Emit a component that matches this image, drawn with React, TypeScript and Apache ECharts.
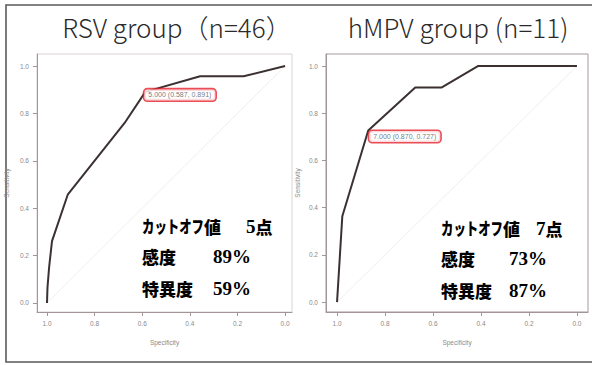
import React, { useEffect, useRef } from "react";
import * as echarts from "echarts";

// ROC curve of the RSV group (specificity on a reversed axis, sensitivity)
const rsvSpecificity = [1.0, 0.998, 0.991, 0.979, 0.913, 0.674, 0.587, 0.357, 0.174, 0.0];
const rsvSensitivity = [0.0, 0.065, 0.152, 0.261, 0.457, 0.76, 0.891, 0.957, 0.957, 1.0];

// ROC curve of the hMPV group
const hmpvSpecificity = [1.0, 0.978, 0.87, 0.674, 0.565, 0.413, 0.0];
const hmpvSensitivity = [0.0, 0.364, 0.727, 0.909, 0.909, 1.0, 1.0];

// Best cut-off point of each curve: threshold, specificity, sensitivity
const cutoffThreshold = [5, 7];
const cutoffSpecificity = [0.587, 0.87];
const cutoffSensitivity = [0.891, 0.727];

const panelTitles = ["RSV group（n=46）", "hMPV group (n=11)"];
const cutoffKana = "カットオフ";
const cutoffKanji = "値";
const cutoffScore = ["5", "7"];
const sensitivityText = ["89", "73"];
const specificityText = ["59", "87"];

const tickValues = [0, 0.2, 0.4, 0.6, 0.8, 1.0];

const curveColor = "#3b3131";
const axisColor = "#a39595";
const labelColor = "#8a8a8a";

function zip(xs: number[], ys: number[]) {
  return xs.map((x, i) => [x, ys[i]]);
}

export default function App() {
  const ref = useRef<HTMLDivElement>(null);

  useEffect(() => {
    if (!ref.current) return;
    const chart = echarts.init(ref.current, null, { renderer: "svg" });

    const grids = [
      { left: 37, top: 54, width: 255, height: 258 },
      { left: 326, top: 54, width: 262, height: 258 },
    ];
    const xRange = [
      { min: -0.029, max: 1.042 },
      { min: -0.046, max: 1.046 },
    ];
    const yRange = [
      { min: -0.038, max: 1.051 },
      { min: -0.042, max: 1.051 },
    ];
    const borderColors = ["#ddd3d3", "#a89999"];
    const yNameGap = [27, 25];

    const xAxes = grids.map((_, i) => ({
      type: "value",
      gridIndex: i,
      inverse: true,
      min: xRange[i].min,
      max: xRange[i].max,
      name: "Specificity",
      nameLocation: "middle",
      nameGap: 27,
      nameTextStyle: { fontSize: 6.5, color: labelColor, fontFamily: "Liberation Sans" },
      axisLine: { show: true, onZero: false, lineStyle: { color: axisColor, width: 1 } },
      axisTick: { show: true, length: 4, customValues: tickValues, lineStyle: { color: axisColor } },
      axisLabel: {
        customValues: tickValues,
        fontSize: 6.5,
        color: labelColor,
        margin: 8,
        fontFamily: "Liberation Sans",
        formatter: (v: number) => v.toFixed(1),
      },
      splitLine: { show: false },
    }));

    const yAxes = grids.map((_, i) => ({
      type: "value",
      gridIndex: i,
      min: yRange[i].min,
      max: yRange[i].max,
      name: "Sensitivity",
      nameLocation: "middle",
      nameGap: yNameGap[i],
      nameTextStyle: { fontSize: 6.5, color: labelColor, fontFamily: "Liberation Sans" },
      axisLine: { show: true, onZero: false, lineStyle: { color: axisColor, width: 1 } },
      axisTick: { show: true, length: 4, customValues: tickValues, lineStyle: { color: axisColor } },
      axisLabel: {
        customValues: tickValues,
        fontSize: 6.5,
        color: labelColor,
        margin: 8,
        fontFamily: "Liberation Sans",
        formatter: (v: number) => v.toFixed(1),
      },
      splitLine: { show: false },
    }));

    const curves = [
      zip(rsvSpecificity, rsvSensitivity),
      zip(hmpvSpecificity, hmpvSensitivity),
    ];

    const labelOffsets = [
      [-6, 3],
      [-4, 6],
    ];

    const series: any[] = [];
    grids.forEach((_, i) => {
      series.push({
        type: "line",
        xAxisIndex: i,
        yAxisIndex: i,
        data: [
          [1, 0],
          [0, 1],
        ],
        symbol: "none",
        silent: true,
        lineStyle: { color: "#f0eeee", width: 1 },
        z: 1,
      });
      series.push({
        type: "line",
        xAxisIndex: i,
        yAxisIndex: i,
        data: curves[i],
        symbol: "none",
        lineStyle: { color: curveColor, width: 2 },
        z: 3,
      });
      series.push({
        type: "scatter",
        xAxisIndex: i,
        yAxisIndex: i,
        data: [[cutoffSpecificity[i], cutoffSensitivity[i]]],
        symbolSize: 0,
        z: 5,
        label: {
          show: true,
          position: "right",
          offset: labelOffsets[i],
          formatter: () =>
            `${cutoffThreshold[i].toFixed(3)} (${cutoffSpecificity[i].toFixed(3)}, ${cutoffSensitivity[i].toFixed(3)})`,
          fontSize: 7,
          color: "#4d5566",
          fontFamily: "Liberation Sans",
          backgroundColor: "#ffffff",
          borderColor: "#e5222a",
          borderWidth: 1.6,
          borderRadius: 3,
          padding: [2, 4, 2, 4],
        },
      });
    });

    // Bold annotation text: CJK glyphs in a heavy gothic, digits in a bold serif.
    const cjk = { fontFamily: '"Noto Sans CJK JP", sans-serif', fontWeight: 900, fontSize: 17, color: "#151515" };
    const num = { fontFamily: '"Liberation Serif", serif', fontWeight: "bold", fontSize: 19, color: "#151515" };
    const richStyles: any = { c: cjk, n: num };

    const noteText = (x: number, y: number, text: string, scaleX = 1) => ({
      type: "text",
      x,
      y,
      scaleX,
      style: { text, rich: richStyles, textVerticalAlign: "middle" },
    });

    const noteX = [142, 441];
    const kanjiX = [204, 503];
    const scoreX = [246, 536];
    const valueX = [213, 509];
    const noteY = [226, 228];
    // the katakana run is set narrower, like a proportional font
    const kanaScale = 0.73;

    const graphic: any[] = [
      {
        type: "rect",
        shape: { x: 6, y: 5, width: 620, height: 357 },
        style: { fill: "none", stroke: "#5a5a5a", lineWidth: 1.6 },
        silent: true,
      },
    ];
    const titleX = [177, 458];
    grids.forEach((_, i) => {
      graphic.push({
        type: "text",
        x: titleX[i],
        y: 26,
        style: {
          text: panelTitles[i],
          font: '300 26px "Noto Sans CJK JP", sans-serif',
          fill: "#2a2a2a",
          textAlign: "center",
          textVerticalAlign: "middle",
        },
      });
      graphic.push(noteText(noteX[i], noteY[i], `{c|${cutoffKana}}`, kanaScale));
      graphic.push(noteText(kanjiX[i], noteY[i], `{c|${cutoffKanji}}`));
      graphic.push(noteText(scoreX[i], noteY[i], `{n|${cutoffScore[i]}}{c|点}`));
      graphic.push(noteText(noteX[i], noteY[i] + 30, "{c|感度}"));
      graphic.push(noteText(valueX[i], noteY[i] + 30, `{n|${sensitivityText[i]}%}`));
      graphic.push(noteText(noteX[i], noteY[i] + 62, "{c|特異度}"));
      graphic.push(noteText(valueX[i], noteY[i] + 62, `{n|${specificityText[i]}%}`));
    });

    chart.setOption({
      animation: false,
      backgroundColor: "#ffffff",
      grid: grids.map((g, i) => ({
        ...g,
        show: true,
        borderColor: borderColors[i],
        borderWidth: 1,
        backgroundColor: "transparent",
      })),
      xAxis: xAxes,
      yAxis: yAxes,
      series,
      graphic,
    });

    return () => chart.dispose();
  }, []);

  return (
    <div
      ref={ref}
      style={{ position: "fixed", left: 0, top: 0, width: 592, height: 365, background: "#fff" }}
    />
  );
}
